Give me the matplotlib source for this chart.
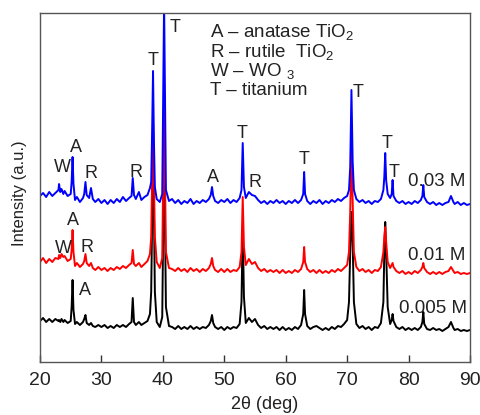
import matplotlib
matplotlib.use("Agg")
import matplotlib.pyplot as plt

plt.rcParams['font.family'] = ['Liberation Sans', 'DejaVu Sans']
plt.rcParams['mathtext.fontset'] = 'custom'
plt.rcParams['mathtext.rm'] = 'Liberation Sans'
plt.rcParams['mathtext.default'] = 'regular'

# ---- data: (2theta, intensity) pairs ----
pattern_003 = [
    (20.0,166),(20.5,169),(21.0,165),(21.5,170),(22.0,166),(22.5,169),(23.0,172),(23.1,178),(23.3,170),(23.5,173),
    (23.8,168),(24.0,171),(24.5,166),(25.0,168),(25.15,180),(25.3,205),(25.45,178),(25.7,162),(26.0,165),(26.5,160),
    (27.0,164),(27.2,168),(27.4,180),(27.6,167),(28.0,164),(28.3,174),(28.6,163),(29.0,160),(29.5,163),(30.0,159),
    (30.5,162),(31.0,158),(31.5,162),(32.0,159),(32.5,163),(33.0,160),(33.5,165),(34.0,161),(34.5,164),(34.9,166),
    (35.1,184),(35.3,167),(35.6,163),(36.1,170),(36.5,162),(37.0,165),(37.5,167),(37.9,174),(38.1,180),(38.25,230),
    (38.4,291),(38.55,220),(38.7,175),(39.0,163),(39.5,160),(39.9,168),(40.05,260),(40.2,360),(40.35,260),(40.5,172),
    (41.0,161),(41.5,163),(42.0,159),(42.5,162),(43.0,158),(43.5,161),(44.0,159),(44.5,163),(45.0,158),(45.5,161),
    (46.0,159),(46.5,162),(47.0,160),(47.5,163),(47.8,167),(48.0,175),(48.2,166),(48.5,161),(49.0,159),(49.5,162),
    (50.0,160),(50.5,163),(51.0,159),(51.5,162),(52.0,160),(52.5,164),(52.8,172),(53.0,219),(53.2,175),(53.5,164),
    (54.0,170),(54.5,167),(55.0,166),(55.5,162),(56.0,159),(56.5,161),(57.0,158),(57.5,161),(58.0,159),(58.5,162),
    (59.0,159),(59.5,161),(60.0,158),(60.5,161),(61.0,159),(61.5,162),(62.0,159),(62.5,162),(62.85,168),(63.0,190),
    (63.15,168),(63.5,161),(64.0,158),(64.5,161),(65.0,159),(65.5,162),(66.0,158),(66.5,161),(67.0,159),(67.5,162),
    (68.0,160),(68.5,163),(69.0,161),(69.5,164),(70.0,166),(70.3,172),(70.5,195),(70.7,272),(70.9,200),(71.1,172),
    (71.5,163),(72.0,160),(72.5,162),(73.0,159),(73.5,161),(74.0,158),(74.5,161),(75.0,160),(75.5,163),(75.9,172),
    (76.05,185),(76.2,209),(76.35,182),(76.6,168),(77.0,164),(77.25,168),(77.4,182),(77.55,166),(78.0,161),(78.5,159),
    (79.0,161),(79.5,158),(80.0,160),(80.5,158),(81.0,161),(81.5,159),(82.0,162),(82.25,166),(82.4,177),(82.55,165),
    (83.0,160),(83.5,158),(84.0,160),(84.5,157),(85.0,159),(85.5,157),(86.0,159),(86.5,160),(86.9,166),(87.3,160),
    (87.5,158),(88.0,160),(88.5,157),(89.0,159),(89.5,157),(90.0,158),
]

pattern_001 = [
    (20.0,100),(20.5,104),(21.0,99),(21.5,103),(22.0,100),(22.5,104),(23.0,103),(23.1,107),(23.3,104),(23.5,108),
    (23.8,105),(24.0,106),(24.5,101),(25.0,103),(25.15,112),(25.3,132),(25.45,110),(25.7,96),(26.0,99),(26.5,95),
    (27.0,98),(27.2,101),(27.4,108),(27.6,99),(28.0,96),(28.3,99),(28.6,94),(29.0,92),(29.5,95),(30.0,92),
    (30.5,94),(31.0,91),(31.5,94),(32.0,92),(32.5,95),(33.0,93),(33.5,96),(34.0,94),(34.5,97),(34.9,99),
    (35.1,112),(35.3,98),(35.6,96),(36.1,99),(36.5,95),(37.0,98),(37.5,101),(37.9,108),(38.1,125),(38.25,180),
    (38.4,240),(38.55,185),(38.7,125),(39.0,100),(39.5,94),(39.9,104),(40.05,180),(40.2,262),(40.35,190),(40.5,110),
    (41.0,94),(41.5,93),(42.0,91),(42.5,94),(43.0,91),(43.5,93),(44.0,90),(44.5,94),(45.0,91),(45.5,93),
    (46.0,90),(46.5,93),(47.0,91),(47.5,94),(47.8,98),(48.0,104),(48.2,96),(48.5,92),(49.0,90),(49.5,93),
    (50.0,90),(50.5,93),(51.0,90),(51.5,92),(52.0,91),(52.5,95),(52.8,110),(53.0,165),(53.2,115),(53.5,97),
    (54.0,103),(54.5,98),(55.0,100),(55.5,94),(56.0,91),(56.5,93),(57.0,90),(57.5,92),(58.0,90),(58.5,92),
    (59.0,89),(59.5,92),(60.0,89),(60.5,91),(61.0,89),(61.5,92),(62.0,90),(62.5,93),(62.85,100),(63.0,115),
    (63.15,100),(63.5,93),(64.0,90),(64.5,92),(65.0,89),(65.5,92),(66.0,89),(66.5,91),(67.0,89),(67.5,92),
    (68.0,90),(68.5,93),(69.0,91),(69.5,94),(70.0,97),(70.3,110),(70.5,150),(70.7,212),(70.9,160),(71.1,110),
    (71.5,95),(72.0,91),(72.5,93),(73.0,90),(73.5,92),(74.0,89),(74.5,92),(75.0,91),(75.5,95),(75.9,110),
    (76.05,125),(76.2,135),(76.35,120),(76.6,100),(77.0,94),(77.25,97),(77.4,99),(77.55,95),(78.0,91),(78.5,89),
    (79.0,91),(79.5,88),(80.0,90),(80.5,88),(81.0,91),(81.5,89),(82.0,92),(82.25,95),(82.4,99),(82.55,94),
    (83.0,90),(83.5,88),(84.0,90),(84.5,88),(85.0,90),(85.5,88),(86.0,90),(86.5,91),(86.9,95),(87.3,91),
    (87.5,89),(88.0,90),(88.5,88),(89.0,89),(89.5,88),(90.0,89),
]

pattern_0005 = [
    (20.0,41),(20.5,44),(21.0,40),(21.5,43),(22.0,40),(22.5,43),(23.0,41),(23.1,42),(23.3,40),(23.5,43),
    (23.8,40),(24.0,42),(24.5,39),(25.0,41),(25.15,55),(25.3,82),(25.45,52),(25.7,38),(26.0,40),(26.5,37),
    (27.0,40),(27.2,43),(27.4,47),(27.6,39),(28.0,37),(28.3,39),(28.6,36),(29.0,35),(29.5,37),(30.0,35),
    (30.5,37),(31.0,34),(31.5,36),(32.0,34),(32.5,37),(33.0,35),(33.5,37),(34.0,35),(34.5,38),(34.9,40),
    (35.1,64),(35.3,40),(35.6,37),(36.1,40),(36.5,37),(37.0,39),(37.5,41),(37.9,48),(38.1,70),(38.25,140),
    (38.4,200),(38.55,150),(38.7,70),(39.0,40),(39.5,35),(39.9,45),(40.05,130),(40.2,200),(40.35,140),(40.5,55),
    (41.0,36),(41.5,35),(42.0,33),(42.5,36),(43.0,33),(43.5,35),(44.0,33),(44.5,36),(45.0,33),(45.5,35),
    (46.0,33),(46.5,35),(47.0,34),(47.5,37),(47.8,41),(48.0,47),(48.2,39),(48.5,35),(49.0,33),(49.5,35),
    (50.0,32),(50.5,35),(51.0,33),(51.5,35),(52.0,34),(52.5,38),(52.8,60),(53.0,135),(53.2,65),(53.5,39),
    (54.0,44),(54.5,40),(55.0,43),(55.5,37),(56.0,34),(56.5,36),(57.0,33),(57.5,35),(58.0,33),(58.5,35),
    (59.0,32),(59.5,35),(60.0,32),(60.5,34),(61.0,32),(61.5,35),(62.0,33),(62.5,37),(62.85,48),(63.0,72),
    (63.15,48),(63.5,36),(64.0,33),(64.5,35),(65.0,36),(65.5,34),(66.0,32),(66.5,34),(67.0,32),(67.5,35),
    (68.0,33),(68.5,36),(69.0,35),(69.5,38),(70.0,42),(70.3,60),(70.5,110),(70.7,150),(70.9,120),(71.1,60),
    (71.5,38),(72.0,34),(72.5,36),(73.0,33),(73.5,35),(74.0,32),(74.5,35),(75.0,34),(75.5,39),(75.9,60),
    (76.05,110),(76.2,140),(76.35,110),(76.6,55),(77.0,38),(77.25,42),(77.4,48),(77.55,41),(78.0,35),(78.5,33),
    (79.0,35),(79.5,32),(80.0,34),(80.5,32),(81.0,34),(81.5,32),(82.0,35),(82.25,40),(82.4,50),(82.55,38),
    (83.0,33),(83.5,32),(84.0,34),(84.5,32),(85.0,33),(85.5,31),(86.0,33),(86.5,35),(86.9,40),(87.3,34),
    (87.5,32),(88.0,33),(88.5,31),(89.0,32),(89.5,31),(90.0,32),
]

series_names = ['0.005 M', '0.01 M', '0.03 M']
series_colors = ['#000000', '#ff0000', '#0000ff']
series_data = [pattern_0005, pattern_001, pattern_003]
series_label_pos = [(84.0, 54), (84.5, 107), (84.5, 181)]

# peak labels: (letter, 2theta, height)
peak_labels = [
    ('W', 23.6, 195), ('A', 25.9, 215), ('R', 28.3, 189), ('R', 35.6, 190),
    ('T', 38.4, 302), ('T', 42.0, 335), ('A', 48.1, 185), ('T', 52.9, 229),
    ('R', 55.0, 180), ('T', 63.0, 203), ('T', 71.8, 270), ('T', 76.5, 219),
    ('T', 77.7, 190),
    ('A', 25.4, 142), ('W', 23.8, 114), ('R', 27.6, 115),
    ('A', 27.3, 72),
]

legend_lines = [r'A – anatase TiO$_2$', r'R – rutile  TiO$_2$', r'W – WO $_3$', 'T – titanium']
legend_x = 47.7
legend_y = [330, 310, 291, 272]

x_ticks = [20, 30, 40, 50, 60, 70, 80, 90]

# ---- figure ----
fig = plt.figure(figsize=(4.81, 4.15), dpi=100)
ax = fig.add_axes([40/481, 1-362/415, 430/481, 349/415])

for data, col in zip(series_data, series_colors):
    xs = [p[0] for p in data]
    ys = [p[1] for p in data]
    ax.plot(xs, ys, color=col, lw=1.4, solid_joinstyle='round')

ax.set_xlim(20, 90)
ax.set_ylim(0, 349)
ax.set_xticks(x_ticks)
ax.set_yticks([])
ax.tick_params(axis='x', direction='in', length=5, width=1, colors='#333333',
               labelsize=14, labelcolor='#222222', pad=7)
for s in ax.spines.values():
    s.set_color('#555555')
    s.set_linewidth(1.0)

txtcol = '#222222'
for letter, x, y in peak_labels:
    ax.text(x, y, letter, ha='center', va='center', fontsize=13, color=txtcol)

for name, (x, y) in zip(series_names, series_label_pos):
    ax.text(x, y, name, ha='center', va='center', fontsize=13.5, color=txtcol)

for line, y in zip(legend_lines, legend_y):
    ax.text(legend_x, y, line, ha='left', va='center', fontsize=13.5, color=txtcol)

fig.text(265/481, 1-404/415, '2θ (deg)', ha='center', va='center', fontsize=13, color=txtcol)
fig.text(20/481, 1-193/415, 'Intensity (a.u.)', ha='center', va='center', rotation=90,
         fontsize=12, color=txtcol)

fig.savefig('out.png', dpi=100)
